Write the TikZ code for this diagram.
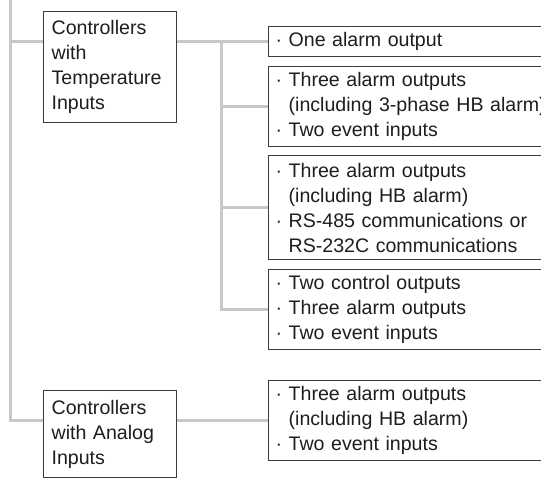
\documentclass[tikz,border=0pt]{standalone}
\usepackage{fontspec}
\setmainfont{Liberation Sans}
\usepackage{xcolor}
\usepackage{tikz}
\usetikzlibrary{positioning, backgrounds}
\definecolor{boxgray}{RGB}{60, 60, 60}
\definecolor{linkgray}{RGB}{200, 200, 200}
\definecolor{textblack}{RGB}{30, 30, 30}
\newcommand{\ind}{\hphantom{·~}}

\begin{document}
\begin{tikzpicture}[
    x=0.5pt, y=-0.5pt,
    font=\fontsize{9.8}{12.5}\selectfont, text=textblack,
    group/.style={rectangle, draw=boxgray, fill=white, line width=0.6pt,
                  text width=58.5pt, inner xsep=4pt, minimum height=#1,
                  align=left, anchor=north west},
    feature/.style={rectangle, draw=boxgray, fill=white, line width=0.6pt,
                    text width=140pt, inner xsep=3.5pt, inner ysep=2pt,
                    minimum height=#1, align=left, anchor=north west},
    link/.style={draw=linkgray, line width=1.5pt}
]
\clip (0,0) rectangle (541,477);

% Controller groups
\node[group=55.5pt] (temp) at (43,11) {Controllers\\with\\Temperature\\Inputs};
\node[group=43.5pt] (analog) at (43,390) {Controllers\\with Analog\\Inputs};

% Feature boxes
\node[feature=15pt] (o1) at (268,26) {· One alarm output};
\node[feature=40pt] (o2) at (268,66) {
    · Three alarm outputs\\
    \ind(including 3-phase HB alarm)\\
    · Two event inputs
};
\node[feature=52pt] (o3) at (268,155) {
    · Three alarm outputs\\
    \ind(including HB alarm)\\
    · RS-485 communications or\\
    \ind RS-232C communications
};
\node[feature=40pt] (o4) at (268,269) {
    · Two control outputs\\
    · Three alarm outputs\\
    · Two event inputs
};
\node[feature=40pt] (o5) at (268,380) {
    · Three alarm outputs\\
    \ind(including HB alarm)\\
    · Two event inputs
};

% Connectors
\coordinate (root) at (10,0);
\coordinate (split) at (221,41);
\begin{scope}[on background layer]
\draw[link] (root) |- (o1.west);
\draw[link] (root) |- (o5.west);
\draw[link] (split) |- (o2.west);
\draw[link] (split) |- (o3.west);
\draw[link] (split) |- (o4.west);
\end{scope}

\end{tikzpicture}
\end{document}
